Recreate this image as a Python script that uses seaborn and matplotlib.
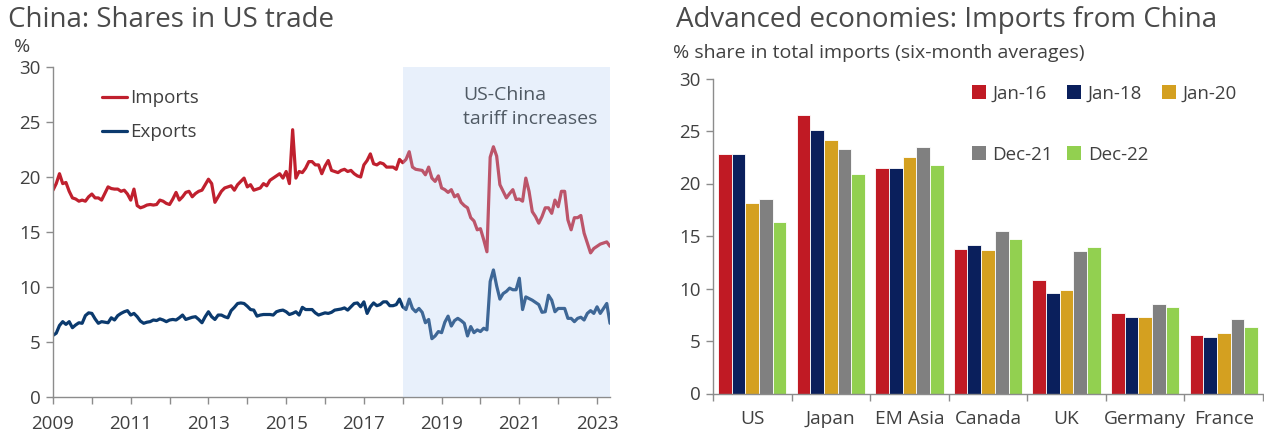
import numpy as np
import pandas as pd
import matplotlib
matplotlib.use("Agg")
import matplotlib.pyplot as plt
import seaborn as sns
from matplotlib.lines import Line2D
from matplotlib.patches import Patch

# ---- Left panel: China's share in US trade, monthly, Jan 2009 - May 2023 (%) ----
start_year = 2009
imports_share = [
    18.8, 19.4, 20.3, 19.4, 19.5, 18.7, 18.1, 18.0, 17.8, 17.9, 17.8, 18.2,   # 2009
    18.45, 18.1, 18.1, 17.9, 18.5, 19.1, 18.95, 18.9, 18.9, 18.7, 18.8, 18.45,  # 2010
    17.9, 18.9, 17.4, 17.2, 17.3, 17.45, 17.5, 17.45, 17.5, 17.9, 17.8, 17.6,  # 2011
    17.5, 18.0, 18.6, 17.9, 18.2, 18.6, 18.7, 18.2, 18.5, 18.7, 18.8, 19.3,    # 2012
    19.8, 19.4, 17.7, 18.2, 18.7, 19.0, 19.1, 19.2, 18.8, 19.3, 19.6, 19.9,    # 2013
    19.1, 19.3, 18.8, 18.9, 19.0, 19.4, 19.2, 19.7, 19.9, 20.1, 20.3, 19.9,    # 2014
    20.5, 19.4, 24.3, 19.9, 20.5, 20.4, 20.8, 21.4, 21.4, 21.1, 21.1, 20.3,    # 2015
    21.0, 21.5, 20.6, 20.5, 20.4, 20.6, 20.7, 20.5, 20.6, 20.3, 20.1, 20.0,    # 2016
    21.1, 21.5, 22.1, 21.2, 21.1, 21.3, 21.2, 20.9, 20.9, 20.9, 20.7, 21.6,    # 2017
    21.3, 21.6, 22.3, 20.9, 20.7, 20.65, 20.6, 20.2, 20.9, 19.9, 19.6, 20.1,   # 2018
    19.0, 18.85, 18.6, 18.85, 18.2, 18.4, 17.7, 17.4, 17.2, 16.3, 16.0, 15.2,  # 2019
    15.3, 14.3, 13.2, 21.8, 22.75, 21.9, 19.3, 18.7, 18.1, 18.5, 18.85, 17.95, # 2020
    18.0, 17.8, 19.9, 18.7, 16.85, 16.4, 15.8, 16.4, 17.2, 17.2, 16.7, 17.9,   # 2021
    17.3, 18.7, 18.7, 16.1, 15.2, 16.3, 16.3, 16.5, 14.9, 14.0, 13.1, 13.5,    # 2022
    13.7, 13.9, 14.0, 14.1, 13.7,                                              # 2023
]
exports_share = [
    5.6, 5.8, 6.5, 6.85, 6.6, 6.85, 6.3, 6.55, 6.75, 6.7, 7.4, 7.65,           # 2009
    7.6, 7.1, 6.7, 6.85, 6.8, 6.75, 7.2, 7.0, 7.4, 7.6, 7.75, 7.85,            # 2010
    7.45, 7.6, 7.3, 6.9, 6.7, 6.8, 6.85, 7.0, 6.95, 7.1, 7.0, 6.85,            # 2011
    7.0, 7.05, 7.0, 7.2, 7.45, 7.05, 7.15, 7.25, 7.3, 7.05, 6.75, 7.3,         # 2012
    7.75, 7.3, 7.05, 7.45, 7.45, 7.3, 7.2, 7.85, 8.15, 8.5, 8.55, 8.5,         # 2013
    8.25, 7.95, 7.9, 7.35, 7.45, 7.5, 7.5, 7.5, 7.45, 7.75, 7.85, 7.9,         # 2014
    7.75, 7.5, 7.6, 7.75, 7.45, 8.15, 7.95, 7.95, 7.95, 7.65, 7.45, 7.55,      # 2015
    7.65, 7.6, 7.7, 7.9, 7.95, 8.0, 8.1, 7.9, 8.2, 8.5, 8.55, 8.2,             # 2016
    8.65, 7.6, 8.2, 8.55, 8.3, 8.4, 8.65, 8.65, 8.3, 8.3, 8.4, 8.9,            # 2017
    8.2, 7.95, 8.9, 8.05, 7.75, 8.05, 7.7, 6.75, 7.05, 5.3, 5.55, 5.95,        # 2018
    5.85, 6.8, 7.35, 6.45, 6.95, 7.15, 6.95, 6.7, 5.55, 6.4, 5.85, 6.1,        # 2019
    5.95, 6.25, 6.1, 10.5, 11.55, 10.1, 8.9, 9.4, 9.6, 9.9, 9.75, 9.75,        # 2020
    10.8, 7.95, 9.1, 8.95, 8.8, 8.6, 8.4, 7.7, 7.75, 9.25, 8.8, 7.75,          # 2021
    8.05, 8.05, 8.05, 7.15, 7.15, 6.85, 7.15, 7.25, 7.0, 7.6, 7.85, 7.6,       # 2022
    8.2, 7.6, 8.05, 8.5, 6.7,                                                  # 2023
]
series_names = ["Imports", "Exports"]
tariff_start = 2018
year_ticks = list(range(2009, 2024))
year_labels = [str(y) if (y - 2009) % 2 == 0 else "" for y in year_ticks]

# ---- Right panel: imports from China, % share of total imports ----
countries = ["US", "Japan", "EM Asia", "Canada", "UK", "Germany", "France"]
periods = ["Jan-16", "Jan-18", "Jan-20", "Dec-21", "Dec-22"]
jan16 = [22.8, 26.5, 21.45, 13.75, 10.8, 7.7, 5.6]
jan18 = [22.8, 25.1, 21.5, 14.15, 9.6, 7.25, 5.35]
jan20 = [18.15, 24.15, 22.5, 13.65, 9.85, 7.3, 5.75]
dec21 = [18.5, 23.3, 23.5, 15.5, 13.55, 8.5, 7.1]
dec22 = [16.3, 20.9, 21.8, 14.7, 13.95, 8.25, 6.3]

# ---- styling ----
sns.set_theme(style="white")
plt.rcParams["font.family"] = ["Open Sans", "DejaVu Sans"]
TXT = "#404040"
TITLE = "#4a4a4a"
SPINE = "#8c8c8c"
line_colors = {"Imports": "#C0202E", "Exports": "#0B3A6E"}
bar_colors = {"Jan-16": "#C01A24", "Jan-18": "#0A1F5C", "Jan-20": "#D4A020",
              "Dec-21": "#808080", "Dec-22": "#92D050"}

W, H = 1264, 438
fig = plt.figure(figsize=(W / 100, H / 100), dpi=100)
ax1 = fig.add_axes([53 / W, 1 - 397 / H, (610 - 53) / W, (397 - 67) / H])
ax2 = fig.add_axes([713 / W, 1 - 393.5 / H, (1263 - 713) / W, (393.5 - 78.5) / H])

# ---------- left: line chart ----------
n = len(imports_share)
years = [start_year + i / 12 for i in range(n)]
lines_df = pd.DataFrame({
    "year": years * 2,
    "share": imports_share + exports_share,
    "series": ["Imports"] * n + ["Exports"] * n,
})
sns.lineplot(data=lines_df, x="year", y="share", hue="series", hue_order=series_names,
             palette=line_colors, linewidth=2.3, ax=ax1, legend=False, zorder=2)
x_end = years[-1]
ax1.set_xlim(start_year, x_end)
ax1.set_ylim(0, 30)
ax1.axvspan(tariff_start, x_end, color="#B5D0F5", alpha=0.3, lw=0, zorder=3)
ax1.text(tariff_start + 1.55, 28.3, "US-China\ntariff increases", fontsize=14,
         color="#505a64", va="top", ha="left", linespacing=1.45, zorder=4)

ax1.set_xticks(year_ticks)
ax1.set_xticklabels(year_labels)
ax1.set_yticks(range(0, 31, 5))
ax1.set_xlabel("")
ax1.set_ylabel("")
for s in ["top", "right"]:
    ax1.spines[s].set_visible(False)
for s in ["left", "bottom"]:
    ax1.spines[s].set_color(SPINE)
    ax1.spines[s].set_linewidth(1.0)
ax1.tick_params(axis="both", which="major", direction="out", length=5, width=1,
                color=SPINE, labelsize=13.5, labelcolor=TXT, pad=4, bottom=True, left=True)
ax1.tick_params(axis="x", pad=8)

handles = [Line2D([0], [0], color=line_colors[s], lw=2.3) for s in series_names]
ax1.legend(handles, series_names, loc="upper left", bbox_to_anchor=(0.075, 0.955),
           frameon=False, fontsize=13.5, handlelength=1.3, handletextpad=0.2,
           labelspacing=0.85, labelcolor=TXT, borderaxespad=0)

fig.text(8 / W, 1 - 20 / H, "China: Shares in US trade", fontsize=20, color=TITLE,
         ha="left", va="center")
fig.text(22 / W, 1 - 47 / H, "%", fontsize=14, color=TXT, ha="center", va="center")

# ---------- right: grouped bars ----------
bars_df = pd.DataFrame({
    "country": countries * len(periods),
    "period": [p for p in periods for _ in countries],
    "share": jan16 + jan18 + jan20 + dec21 + dec22,
})
sns.barplot(data=bars_df, x="country", y="share", hue="period", order=countries,
            hue_order=periods, palette=bar_colors, width=0.87, saturation=1,
            edgecolor="white", linewidth=0.6, ax=ax2, legend=False)
ax2.set_xlim(-0.5, len(countries) - 0.5)
ax2.set_ylim(0, 30)
ax2.set_yticks(range(0, 31, 5))
ax2.set_xlabel("")
ax2.set_ylabel("")
ax2.set_xticks(np.arange(-0.5, len(countries), 1.0), minor=True)
for s in ["top", "right"]:
    ax2.spines[s].set_visible(False)
for s in ["left", "bottom"]:
    ax2.spines[s].set_color(SPINE)
    ax2.spines[s].set_linewidth(1.0)
ax2.tick_params(axis="x", which="major", length=0, labelsize=13.8, labelcolor=TXT, pad=12)
ax2.tick_params(axis="x", which="minor", direction="out", length=5, width=1,
                color=SPINE, bottom=True)
ax2.tick_params(axis="y", which="major", direction="out", length=5, width=1,
                color=SPINE, labelsize=13.5, labelcolor=TXT, left=True, pad=4)

# legend laid out row-wise: three entries on top, two below
leg_order = ["Jan-16", "Dec-21", "Jan-18", "Dec-22", "Jan-20"]
leg_handles = [Patch(facecolor=bar_colors[p], edgecolor="none") for p in leg_order]
ax2.legend(leg_handles, leg_order, ncol=3, loc="upper left",
           bbox_to_anchor=(0.457, 1.005), frameon=False, fontsize=13.5,
           handlelength=0.75, handleheight=0.75, handletextpad=0.35,
           columnspacing=0.75, labelspacing=2.3, labelcolor=TXT, borderaxespad=0)

fig.text(676 / W, 1 - 20 / H, "Advanced economies: Imports from China", fontsize=20,
         color=TITLE, ha="left", va="center")
fig.text(673 / W, 1 - 53 / H, "% share in total imports (six-month averages)",
         fontsize=14, color=TXT, ha="left", va="center")

fig.savefig("out.png", dpi=100)
